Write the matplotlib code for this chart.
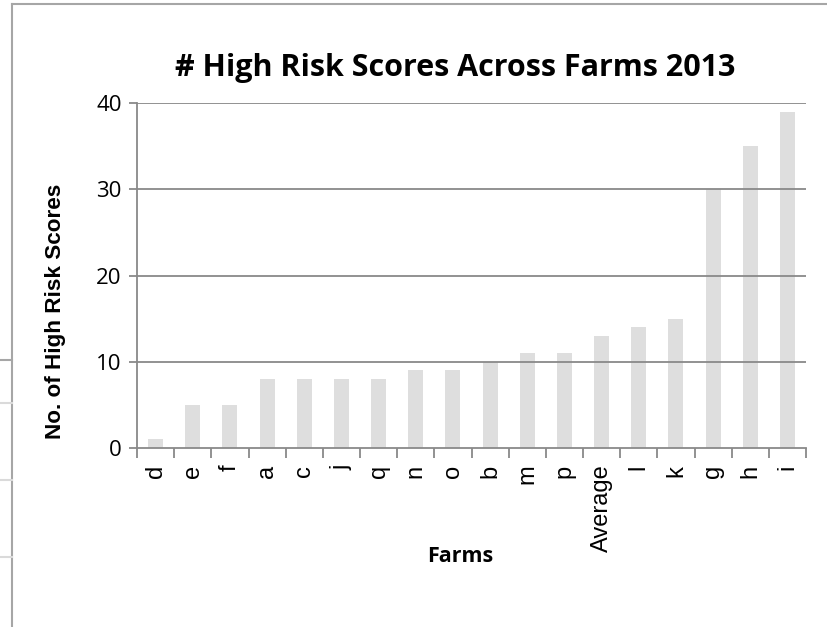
import matplotlib.pyplot as plt
from matplotlib.lines import Line2D
from matplotlib.ticker import FixedLocator, NullFormatter

farms = ["d", "e", "f", "a", "c", "j", "q", "n", "o", "b", "m", "p",
         "Average", "l", "k", "g", "h", "i"]
high_risk = [1, 5, 5, 8, 8, 8, 8, 9, 9, 10, 11, 11, 13, 14, 15, 30, 35, 39]
y_ticks = [0, 10, 20, 30, 40]

AXIS_GREY = "#898989"
BAR_GREY = "#dedede"

fig = plt.figure(figsize=(8.27, 6.27), dpi=100)
W, H = 827, 627

# plot area in pixel coordinates of the reference
ax = fig.add_axes([137 / W, 1 - 448 / H, (806 - 137) / W, (448 - 103) / H])

x = list(range(len(farms)))
ax.bar(x, high_risk, width=0.4, color=BAR_GREY, zorder=1)

ax.set_xlim(-0.5, len(farms) - 0.5)
ax.set_ylim(0, 40)

for v in y_ticks[1:]:
    ax.axhline(v, color=AXIS_GREY, lw=1.3, zorder=2)

for side in ["top", "right"]:
    ax.spines[side].set_visible(False)
for side in ["left", "bottom"]:
    ax.spines[side].set_color(AXIS_GREY)
    ax.spines[side].set_linewidth(1.3)
    ax.spines[side].set_zorder(3)

ax.set_yticks(y_ticks)
ax.set_yticklabels([str(v) for v in y_ticks], fontfamily="Open Sans", fontsize=16)
ax.tick_params(axis="y", length=6, width=1.3, color=AXIS_GREY, pad=5)

# category labels at bar centres, tick marks between categories
ax.set_xticks(x)
ax.set_xticklabels(farms, rotation=90, fontfamily="Liberation Sans", fontsize=17)
ax.tick_params(axis="x", which="major", length=0, pad=12)
ax.xaxis.set_minor_locator(FixedLocator([i - 0.5 for i in range(len(farms) + 1)]))
ax.xaxis.set_minor_formatter(NullFormatter())
ax.tick_params(axis="x", which="minor", length=7, width=1.3, color=AXIS_GREY,
               direction="out")

fig.text(455 / W, 1 - 68 / H, "# High Risk Scores Across Farms 2013",
         ha="center", va="center", fontfamily="Open Sans", fontweight="bold",
         fontsize=22)
fig.text(460 / W, 1 - 557 / H, "Farms", ha="center", va="center",
         fontfamily="Open Sans", fontweight="bold", fontsize=15.5)
fig.text(55 / W, 1 - 311 / H, "No. of High Risk Scores", rotation=90,
         ha="center", va="center", fontfamily="Liberation Sans",
         fontweight="bold", fontsize=16.2)

# chart frame and the spreadsheet cell lines peeking out on the left
frame = "#a6a6a6"
fig.add_artist(Line2D([12 / W, 12 / W], [0, 1 - 4 / H], color=frame, lw=1.5))
fig.add_artist(Line2D([12 / W, 1], [1 - 4 / H, 1 - 4 / H], color=frame, lw=1.5))
fig.add_artist(Line2D([0, 12 / W], [1 - 360 / H, 1 - 360 / H], color=frame, lw=1.5))
for yy in [403, 480, 557]:
    fig.add_artist(Line2D([0, 12 / W], [1 - yy / H, 1 - yy / H],
                          color="#dadada", lw=1.5))

fig.savefig("out.png", dpi=100)
